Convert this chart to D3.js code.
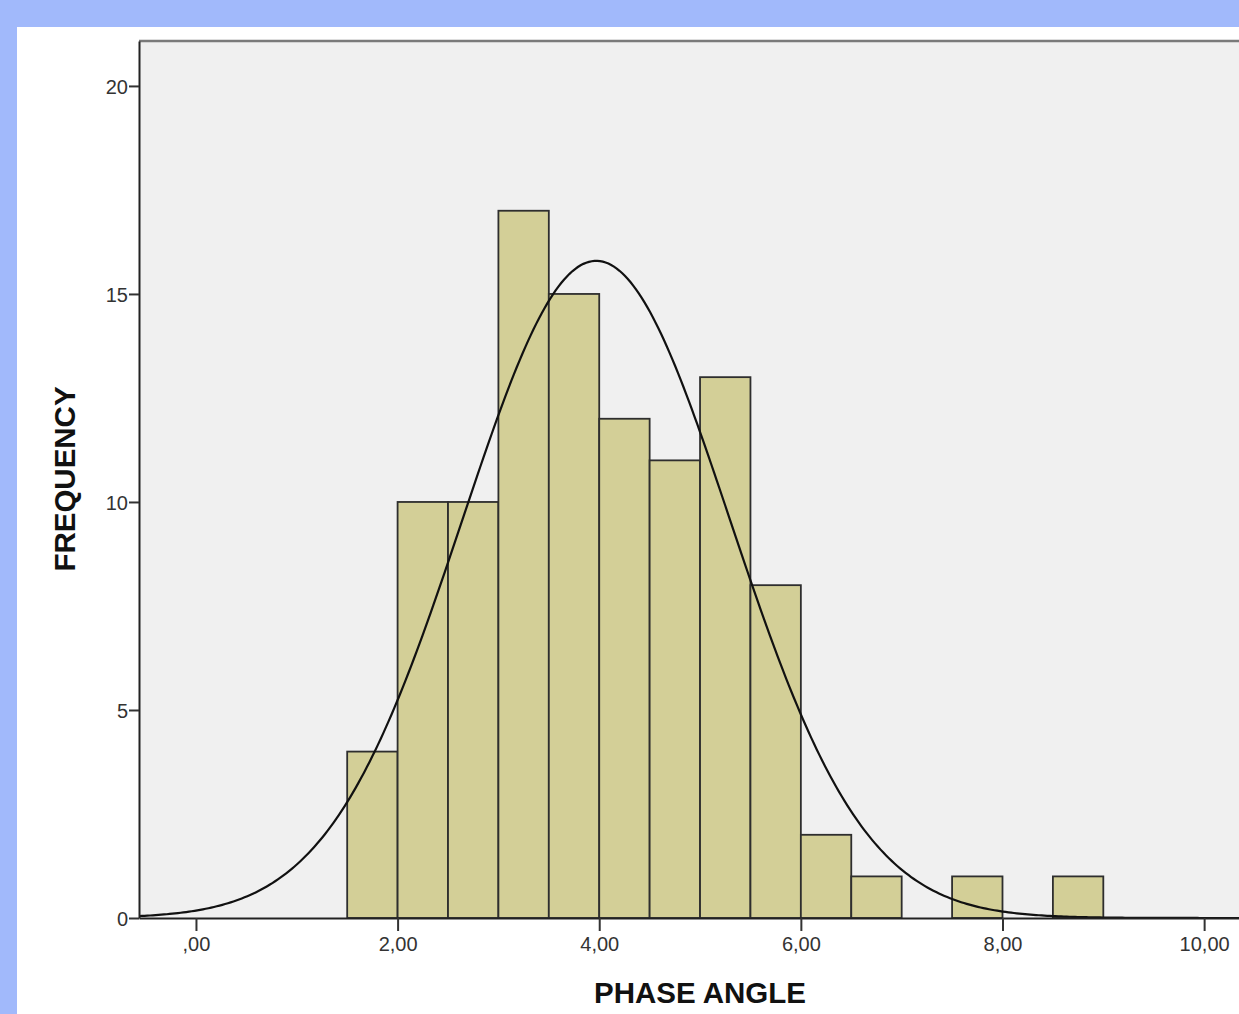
<!DOCTYPE html>
<html>
<head>
<meta charset="utf-8">
<script src="https://cdn.jsdelivr.net/npm/d3@7"></script>
<style>
  html, body { margin: 0; padding: 0; background: #a1b9fb; overflow: hidden; }
  svg { display: block; }
</style>
</head>
<body>
<svg id="chart" width="1239" height="1014"></svg>
<script>
// ---- data ----
const binStarts = [1.5, 2.0, 2.5, 3.0, 3.5, 4.0, 4.5, 5.0, 5.5, 6.0, 6.5, 7.0, 7.5, 8.0, 8.5];
const binCounts = [4, 10, 10, 17, 15, 12, 11, 13, 8, 2, 1, 0, 1, 0, 1];
const binWidth = 0.5;
const xTicks = [0, 2, 4, 6, 8, 10];
const xTickLabels = [",00", "2,00", "4,00", "6,00", "8,00", "10,00"];
const yTicks = [0, 5, 10, 15, 20];
const fitMean = 3.97;
const fitSD = 1.326;
const xTitle = "PHASE ANGLE";
const yTitle = "FREQUENCY";

// ---- layout ----
const svg = d3.select("#chart");
const W = 1239, H = 1014;
const plot = { left: 139, top: 41, right: 1250, bottom: 918 };

svg.append("rect").attr("x", 0).attr("y", 0).attr("width", W).attr("height", H).attr("fill", "#a1b9fb");
svg.append("rect").attr("x", 17).attr("y", 27).attr("width", W - 17).attr("height", H - 27).attr("fill", "#ffffff");

const x = d3.scaleLinear().domain([-0.565, 10.455]).range([plot.left, plot.right]);
const y = d3.scaleLinear().domain([0, 21.08]).range([plot.bottom, plot.top]);

// plot background
svg.append("rect")
  .attr("x", plot.left).attr("y", plot.top)
  .attr("width", plot.right - plot.left).attr("height", plot.bottom - plot.top)
  .attr("fill", "#f0f0f0");

// top frame line
svg.append("line")
  .attr("x1", plot.left).attr("x2", plot.right)
  .attr("y1", plot.top).attr("y2", plot.top)
  .attr("stroke", "#7a7a7a").attr("stroke-width", 2.5);

// bars
const bars = binStarts.map((s, i) => ({ x0: s, x1: s + binWidth, n: binCounts[i] })).filter(d => d.n > 0);
svg.append("g").selectAll("rect").data(bars).join("rect")
  .attr("x", d => x(d.x0))
  .attr("y", d => y(d.n))
  .attr("width", d => x(d.x1) - x(d.x0))
  .attr("height", d => y(0) - y(d.n))
  .attr("fill", "#d3cf97")
  .attr("stroke", "#2e2e2e")
  .attr("stroke-width", 1.8);

// normal curve
const total = d3.sum(binCounts);
const normal = v => total * binWidth / (fitSD * Math.sqrt(2 * Math.PI)) * Math.exp(-((v - fitMean) ** 2) / (2 * fitSD * fitSD));
const dom = x.domain();
const curvePts = d3.range(0, 401).map(i => dom[0] + (dom[1] - dom[0]) * i / 400);
svg.append("path")
  .datum(curvePts)
  .attr("d", d3.line().x(v => x(v)).y(v => y(normal(v))).curve(d3.curveLinear))
  .attr("fill", "none")
  .attr("stroke", "#111")
  .attr("stroke-width", 2.2);

// axes
const xAxis = d3.axisBottom(x).tickValues(xTicks)
  .tickFormat((d, i) => xTickLabels[i]).tickSize(13).tickSizeOuter(0).tickPadding(6);
const gx = svg.append("g").attr("transform", `translate(0,${plot.bottom})`).call(xAxis);
gx.select(".domain").attr("stroke", "#222").attr("stroke-width", 2);
gx.selectAll(".tick line").attr("stroke", "#333").attr("stroke-width", 2);
gx.selectAll(".tick text").attr("font-family", "Liberation Sans, Arial, sans-serif")
  .attr("font-size", 20).attr("fill", "#333");

const yAxis = d3.axisLeft(y).tickValues(yTicks).tickSize(10).tickSizeOuter(0).tickPadding(1);
const gy = svg.append("g").attr("transform", `translate(${plot.left},0)`).call(yAxis);
gy.select(".domain").attr("stroke", "#222").attr("stroke-width", 2);
gy.selectAll(".tick line").attr("stroke", "#333").attr("stroke-width", 2);
gy.selectAll(".tick text").attr("font-family", "Liberation Sans, Arial, sans-serif")
  .attr("font-size", 20).attr("fill", "#333").attr("dy", "0.38em");

// titles
svg.append("text")
  .attr("x", 700).attr("y", 1003)
  .attr("text-anchor", "middle")
  .attr("font-family", "Liberation Sans, Arial, sans-serif")
  .attr("font-weight", "bold").attr("font-size", 29.5)
  .attr("fill", "#111")
  .text(xTitle);

svg.append("text")
  .attr("transform", "translate(75,479) rotate(-90)")
  .attr("text-anchor", "middle")
  .attr("font-family", "Liberation Sans, Arial, sans-serif")
  .attr("font-weight", "bold").attr("font-size", 29.5)
  .attr("fill", "#111")
  .text(yTitle);
</script>
</body>
</html>
